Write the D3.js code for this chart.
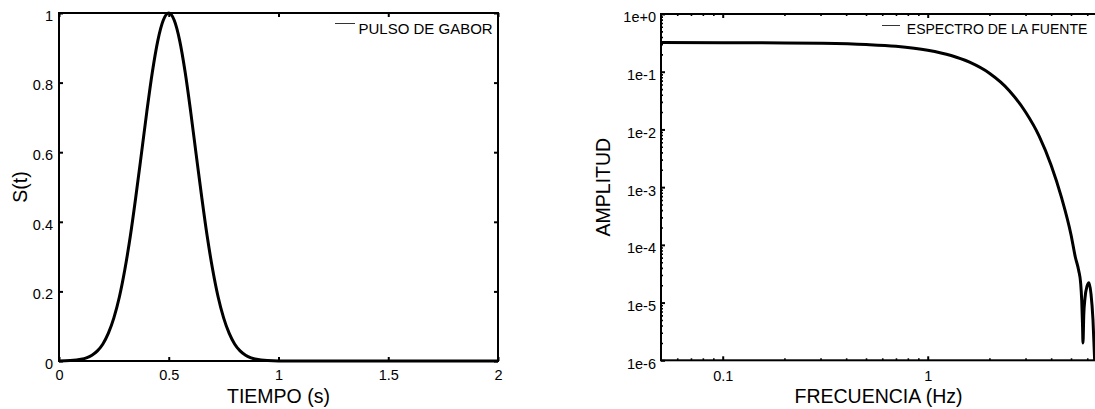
<!DOCTYPE html>
<html>
<head>
<meta charset="utf-8">
<script src="https://cdn.jsdelivr.net/npm/d3@7"></script>
<style>
  html, body { margin: 0; padding: 0; background: #fff; }
  svg { display: block; }
  text { font-family: "Liberation Sans", Arial, Helvetica, sans-serif; fill: #000; }
</style>
</head>
<body>
<svg id="chart" width="1095" height="409"></svg>
<script>
// Gabor source pulse, time domain (s) and normalised amplitude
const pulseTime = [0, 0.05, 0.1, 0.125, 0.15, 0.175, 0.2, 0.225, 0.25, 0.275, 0.3, 0.325, 0.35, 0.375,
  0.4, 0.425, 0.45, 0.475, 0.5, 0.525, 0.55, 0.575, 0.6, 0.625, 0.65, 0.675, 0.7, 0.725, 0.75,
  0.775, 0.8, 0.825, 0.85, 0.875, 0.9, 0.95, 1.0, 1.5, 2.0];
const pulseValue = [0.0002, 0.0012, 0.0048, 0.0091, 0.0167, 0.029, 0.049, 0.080, 0.124, 0.184, 0.263,
  0.359, 0.472, 0.593, 0.716, 0.829, 0.920, 0.979, 1.0, 0.979, 0.920, 0.829, 0.716, 0.593, 0.472,
  0.359, 0.263, 0.184, 0.124, 0.080, 0.049, 0.029, 0.0167, 0.0091, 0.0048, 0.0012, 0.0002, 0, 0];

// Amplitude spectrum of the source (Hz)
const specFreq = [0.05, 0.1, 0.2, 0.3, 0.5, 0.7, 1.0, 1.3, 1.6, 2.0, 2.5, 3.0, 3.5, 4.0, 4.5, 5.0,
  5.25, 5.45, 5.57, 5.64, 5.69, 5.72, 5.77, 5.85, 5.98, 6.12, 6.26, 6.4, 6.52, 6.6];
const specAmp = [0.32, 0.319, 0.316, 0.311, 0.296, 0.276, 0.236, 0.191, 0.146, 0.094, 0.047, 0.020,
  0.0076, 0.0024, 0.00065, 0.00015, 0.000061, 0.000036, 0.000022, 0.0000107, 0.0000041, 0.000002,
  0.000006, 0.000012, 0.000019, 0.000022, 0.000014, 0.000005, 0.000001, 0.0000005];

// Axis ticks and labels
const timeTicks = [0, 0.5, 1, 1.5, 2];
const timeTickLabels = ["0", "0.5", "1", "1.5", "2"];
const pulseTicks = [0, 0.2, 0.4, 0.6, 0.8, 1];
const pulseTickLabels = ["0", "0.2", "0.4", "0.6", "0.8", "1"];
const freqTicks = [0.1, 1];
const freqTickLabels = ["0.1", "1"];
const ampTicks = [1e-6, 1e-5, 1e-4, 1e-3, 1e-2, 1e-1, 1];
const ampTickLabels = ["1e-6", "1e-5", "1e-4", "1e-3", "1e-2", "1e-1", "1e+0"];

const svg = d3.select("#chart");
svg.append("rect").attr("width", 1095).attr("height", 409).attr("fill", "#fff");

const FONT_TICK = 14.5, FONT_TITLE = 19.5;

function styleAxis(g, width) {
  g.select(".domain").remove();
  g.selectAll(".tick line").attr("stroke", "#000").attr("stroke-width", width);
  g.selectAll(".tick text").attr("font-size", FONT_TICK).attr("fill", "#000")
    .attr("font-family", null);
}

// ---------- Left panel: pulse ----------
const L = { x0: 59, x1: 498, y0: 13, y1: 361 };
const xT = d3.scaleLinear().domain([0, 2]).range([L.x0, L.x1]);
const yS = d3.scaleLinear().domain([0, 1]).range([L.y1, L.y0]);

const left = svg.append("g");

left.append("path")
  .datum(pulseTime.map((t, i) => [t, pulseValue[i]]))
  .attr("fill", "none").attr("stroke", "#000").attr("stroke-width", 3)
  .attr("stroke-linejoin", "round")
  .attr("d", d3.line().x(d => xT(d[0])).y(d => yS(d[1])).curve(d3.curveMonotoneX));

left.append("g").attr("transform", `translate(0,${L.y1})`)
  .call(d3.axisBottom(xT).tickValues(timeTicks).tickSize(-4).tickSizeOuter(0).tickPadding(9)
    .tickFormat((d, i) => timeTickLabels[i]))
  .call(g => styleAxis(g, 2));
left.append("g").attr("transform", `translate(0,${L.y0})`)
  .call(d3.axisTop(xT).tickValues(timeTicks).tickSize(-4).tickSizeOuter(0).tickFormat(""))
  .call(g => styleAxis(g, 2));
left.append("g").attr("transform", `translate(${L.x0},0)`)
  .call(d3.axisLeft(yS).tickValues(pulseTicks).tickSize(-4).tickSizeOuter(0).tickPadding(6)
    .tickFormat((d, i) => pulseTickLabels[i]))
  .call(g => styleAxis(g, 2))
  .call(g => g.selectAll(".tick text").attr("dy", "0.5em"));
left.append("g").attr("transform", `translate(${L.x1},0)`)
  .call(d3.axisRight(yS).tickValues(pulseTicks).tickSize(-4).tickSizeOuter(0).tickFormat(""))
  .call(g => styleAxis(g, 2));

left.append("rect")
  .attr("x", L.x0).attr("y", L.y0).attr("width", L.x1 - L.x0).attr("height", L.y1 - L.y0)
  .attr("fill", "none").attr("stroke", "#000").attr("stroke-width", 2);

left.append("text").attr("x", (L.x0 + L.x1) / 2).attr("y", 403)
  .attr("text-anchor", "middle").attr("font-size", FONT_TITLE).text("TIEMPO (s)");
left.append("text").attr("transform", `translate(27,${(L.y0 + L.y1) / 2}) rotate(-90)`)
  .attr("text-anchor", "middle").attr("font-size", FONT_TITLE).text("S(t)");

left.append("line").attr("x1", 335).attr("x2", 355).attr("y1", 23.5).attr("y2", 23.5)
  .attr("stroke", "#000").attr("stroke-width", 0.8);
left.append("text").attr("x", 492.7).attr("y", 33.5).attr("text-anchor", "end")
  .attr("font-size", 15).text("PULSO DE GABOR");

// ---------- Right panel: spectrum ----------
const R = { x0: 661, x1: 1096, y0: 14, y1: 360.3 };
const xF = d3.scaleLog().domain([0.05, 6.62]).range([R.x0, R.x1]);
const yA = d3.scaleLog().domain([1e-6, 1]).range([R.y1, R.y0]);

const isDecade = v => Math.abs(Math.log10(v) - Math.round(Math.log10(v))) < 1e-9;
const freqMinor = xF.ticks().filter(v => !isDecade(v) && v > 0.0501);
const ampMinor = yA.ticks().filter(v => !isDecade(v));

const right = svg.append("g");

svg.append("clipPath").attr("id", "clipR")
  .append("rect").attr("x", R.x0).attr("y", R.y0 - 3).attr("width", R.x1 - R.x0).attr("height", R.y1 - R.y0 + 3);

right.append("path")
  .datum(specFreq.map((f, i) => [f, specAmp[i]]))
  .attr("clip-path", "url(#clipR)")
  .attr("fill", "none").attr("stroke", "#000").attr("stroke-width", 3)
  .attr("stroke-linejoin", "round")
  .attr("d", d3.line().x(d => xF(d[0])).y(d => yA(d[1])).curve(d3.curveMonotoneX));

// major ticks with labels
right.append("g").attr("transform", `translate(0,${R.y1})`)
  .call(d3.axisBottom(xF).tickValues(freqTicks).tickSize(-4).tickSizeOuter(0).tickPadding(10)
    .tickFormat((d, i) => freqTickLabels[i]))
  .call(g => styleAxis(g, 2));
right.append("g").attr("transform", `translate(0,${R.y0})`)
  .call(d3.axisTop(xF).tickValues(freqTicks).tickSize(-4).tickSizeOuter(0).tickFormat(""))
  .call(g => styleAxis(g, 2));
right.append("g").attr("transform", `translate(${R.x0},0)`)
  .call(d3.axisLeft(yA).tickValues(ampTicks).tickSize(-4).tickSizeOuter(0).tickPadding(5)
    .tickFormat((d, i) => ampTickLabels[i]))
  .call(g => styleAxis(g, 2))
  .call(g => g.selectAll(".tick text").attr("dy", "0.55em"));

// minor ticks
right.append("g").attr("transform", `translate(0,${R.y1})`)
  .call(d3.axisBottom(xF).tickValues(freqMinor).tickSize(-2).tickSizeOuter(0).tickFormat(""))
  .call(g => styleAxis(g, 1.6));
right.append("g").attr("transform", `translate(0,${R.y0})`)
  .call(d3.axisTop(xF).tickValues(freqMinor).tickSize(-2).tickSizeOuter(0).tickFormat(""))
  .call(g => styleAxis(g, 1.6));
right.append("g").attr("transform", `translate(${R.x0},0)`)
  .call(d3.axisLeft(yA).tickValues(ampMinor).tickSize(-2).tickSizeOuter(0).tickFormat(""))
  .call(g => styleAxis(g, 1.6));

right.append("rect")
  .attr("x", R.x0).attr("y", R.y0).attr("width", R.x1 - R.x0).attr("height", R.y1 - R.y0)
  .attr("fill", "none").attr("stroke", "#000").attr("stroke-width", 2);

right.append("text").attr("x", (R.x0 + R.x1) / 2).attr("y", 403)
  .attr("text-anchor", "middle").attr("font-size", FONT_TITLE).text("FRECUENCIA (Hz)");
right.append("text").attr("transform", `translate(610,${(R.y0 + R.y1) / 2}) rotate(-90)`)
  .attr("text-anchor", "middle").attr("font-size", FONT_TITLE).text("AMPLITUD");

right.append("line").attr("x1", 882).attr("x2", 900).attr("y1", 25.5).attr("y2", 25.5)
  .attr("stroke", "#000").attr("stroke-width", 0.8);
right.append("text").attr("x", 1087.3).attr("y", 34).attr("text-anchor", "end")
  .attr("font-size", 14).text("ESPECTRO DE LA FUENTE");
</script>
</body>
</html>
